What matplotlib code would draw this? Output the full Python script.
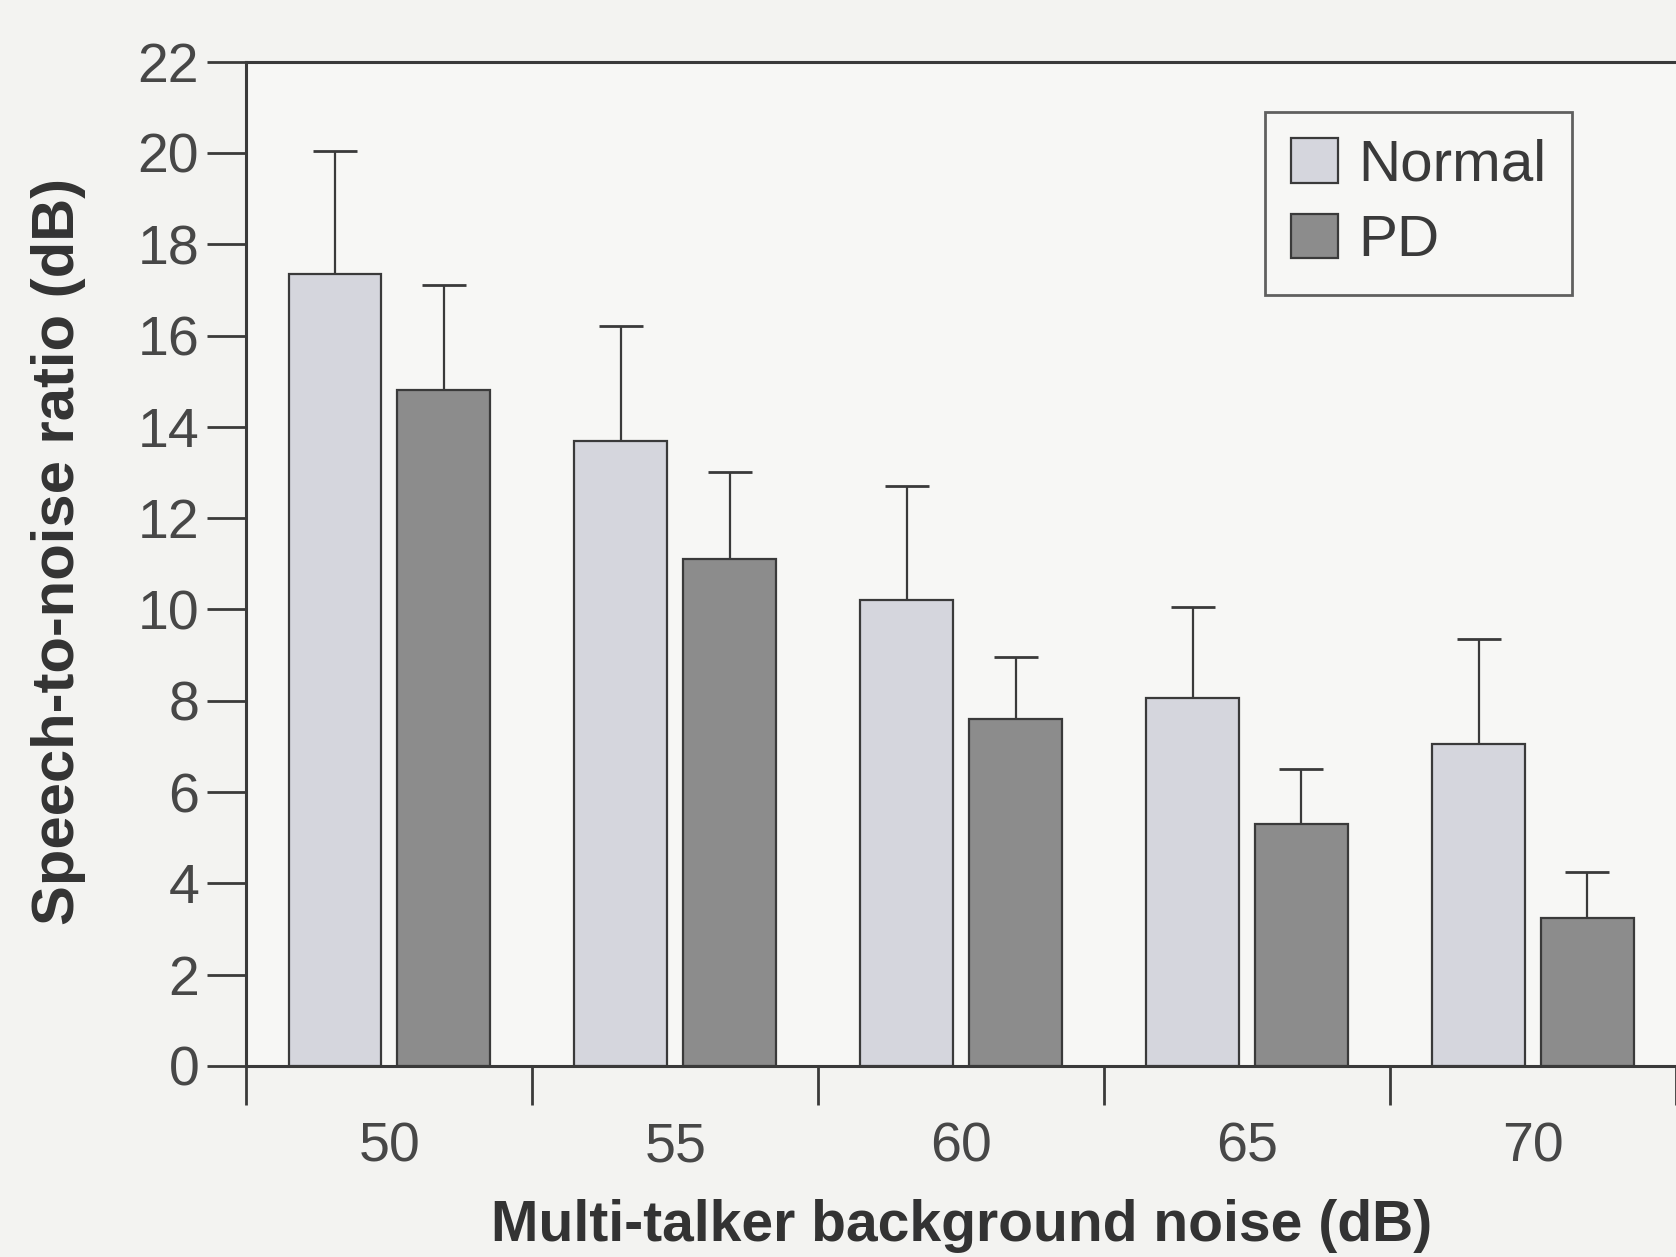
import matplotlib.pyplot as plt
import numpy as np

noise_levels = ['50', '55', '60', '65', '70']
normal_mean = [17.35, 13.7, 10.2, 8.05, 7.05]
normal_err = [2.7, 2.5, 2.5, 2.0, 2.3]
pd_mean = [14.8, 11.1, 7.6, 5.3, 3.25]
pd_err = [2.3, 1.9, 1.35, 1.2, 1.0]

plt.rcParams['font.family'] = ['Liberation Sans', 'DejaVu Sans']

fig = plt.figure(figsize=(16.76, 12.57), dpi=100)
fig.patch.set_facecolor('#f3f3f1')
ax = fig.add_axes([0.147, 0.152, 0.853, 0.799])
ax.set_facecolor('#f7f7f5')

x = np.arange(len(noise_levels))
w = 0.325
off = 0.19
edge = '#3a3a3a'
ax.bar(x - off, normal_mean, w, color='#d5d6dd', edgecolor=edge, linewidth=1.6,
       label='Normal', zorder=3)
ax.bar(x + off, pd_mean, w, color='#8c8c8c', edgecolor=edge, linewidth=1.6,
       label='PD', zorder=3)
ax.errorbar(x - off, normal_mean, yerr=[np.zeros(5), normal_err], fmt='none',
            ecolor=edge, elinewidth=1.6, capsize=16, capthick=2, zorder=2)
ax.errorbar(x + off, pd_mean, yerr=[np.zeros(5), pd_err], fmt='none',
            ecolor=edge, elinewidth=1.6, capsize=16, capthick=2, zorder=2)

ax.set_xlim(-0.5, 4.48)
ax.set_ylim(0, 22)
ax.set_yticks(range(0, 23, 2))
ax.set_xticks(np.arange(-0.5, 5, 1))
ax.set_xticklabels([])
ax.set_xticks(x, minor=True)
ax.set_xticklabels(noise_levels, minor=True)
ax.tick_params(axis='x', which='minor', length=0, pad=40, labelsize=40, labelcolor='#474747')
ax.tick_params(axis='x', which='major', length=28, width=2, color=edge)
ax.tick_params(axis='y', length=28, width=2, color=edge, labelsize=40,
               labelcolor='#474747', pad=6)

for side in ['left', 'bottom', 'top']:
    ax.spines[side].set_color(edge)
    ax.spines[side].set_linewidth(2.2)
ax.spines['right'].set_visible(False)

ax.set_ylabel('Speech-to-noise ratio (dB)', fontsize=43, fontweight='bold',
              color='#333333')
ax.yaxis.set_label_coords(-0.112, 0.512)
ax.set_xlabel('Multi-talker background noise (dB)', fontsize=41, fontweight='bold',
              color='#333333')
ax.xaxis.set_label_coords(0.5, -0.132)

leg = ax.legend(loc='upper right', bbox_to_anchor=(0.948, 0.979), fontsize=42,
                frameon=True, fancybox=False, handlelength=0.8, handleheight=0.8,
                handletextpad=0.35, borderpad=0.45, labelspacing=0.36,
                labelcolor='#3a3a3a')
leg.get_frame().set_edgecolor(edge)
leg.get_frame().set_linewidth(2)
leg.get_frame().set_facecolor('#f7f7f5')

fig.savefig('out.png', dpi=100, facecolor=fig.get_facecolor())
